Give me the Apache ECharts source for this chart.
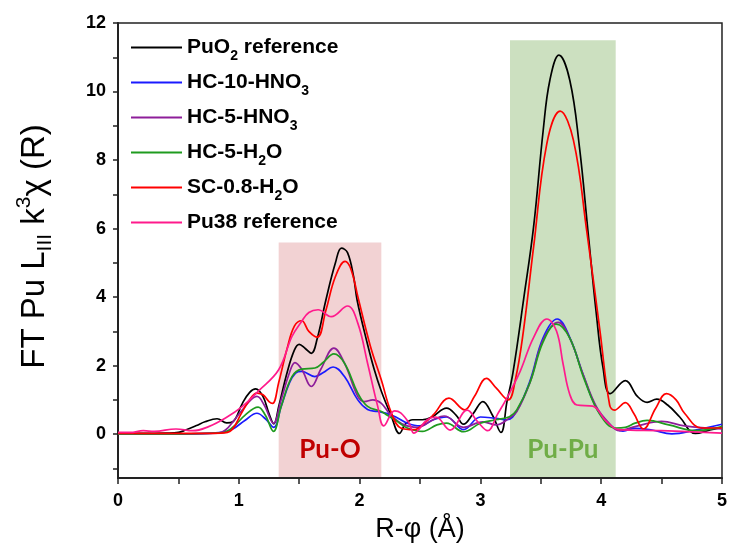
<!DOCTYPE html>
<html><head><meta charset="utf-8">
<script src="https://cdn.jsdelivr.net/npm/echarts@6/dist/echarts.min.js"></script>
<style>html,body{margin:0;padding:0;background:#fff}#c{width:730px;height:550px}</style>
</head><body><div id="c"></div>
<script>
// ---- data (R in Å, FT magnitude) ----
const seriesNames = ['PuO2 reference','HC-10-HNO3','HC-5-HNO3','HC-5-H2O','SC-0.8-H2O','Pu38 reference'];
const legendRich = ['{t|PuO}{s|2}{t| reference}','{t|HC-10-HNO}{s|3}','{t|HC-5-HNO}{s|3}','{t|HC-5-H}{s|2}{t|O}','{t|SC-0.8-H}{s|2}{t|O}','{t|Pu38 reference}'];
const seriesColors = ['#000000','#1a1aff','#8e1e9a','#1f9b1f','#ff0000','#ff1a8c'];

const puo2Ref = [[0,0.02],[0.2,0.02],[0.4,0.03],[0.5,0.05],[0.56,0.12],[0.65,0.25],[0.72,0.36],[0.82,0.45],[0.9,0.33],[0.95,0.36],[1.03,0.9],[1.09,1.22],[1.14,1.32],[1.2,1.1],[1.25,0.6],[1.29,0.3],[1.33,0.8],[1.4,1.8],[1.46,2.45],[1.5,2.62],[1.55,2.5],[1.6,2.36],[1.65,2.8],[1.72,3.9],[1.8,5.0],[1.85,5.43],[1.9,5.3],[1.95,4.6],[1.98,3.9],[2.06,2.7],[2.12,1.9],[2.18,1.25],[2.26,0.55],[2.33,0.02],[2.38,0.3],[2.44,0.42],[2.52,0.42],[2.6,0.5],[2.72,0.76],[2.8,0.55],[2.86,0.29],[2.94,0.6],[3.02,0.95],[3.1,0.55],[3.17,0.05],[3.22,0.95],[3.27,1.8],[3.36,3.99],[3.44,6.04],[3.52,8.87],[3.575,10.33],[3.65,11.06],[3.74,10.33],[3.82,8.38],[3.89,5.94],[3.96,3.5],[4.015,1.94],[4.075,1.18],[4.2,1.56],[4.3,1.1],[4.38,0.93],[4.46,1.02],[4.55,0.85],[4.65,0.5],[4.78,0.02],[4.9,0.12],[5.0,0.2]];
const hc10HNO3 = [[0,0.0],[0.5,0.0],[0.86,0.05],[0.95,0.15],[1.05,0.4],[1.15,0.61],[1.22,0.45],[1.29,0.2],[1.35,0.8],[1.42,1.5],[1.47,1.78],[1.52,1.83],[1.63,1.68],[1.7,1.8],[1.78,1.96],[1.875,1.68],[1.985,1.0],[2.066,0.72],[2.15,0.66],[2.23,0.6],[2.3,0.5],[2.395,0.32],[2.5,0.24],[2.61,0.42],[2.72,0.5],[2.86,0.13],[3.0,0.5],[3.11,0.47],[3.22,0.42],[3.3,0.67],[3.41,1.55],[3.52,2.82],[3.636,3.36],[3.74,2.82],[3.85,1.74],[3.96,0.77],[4.07,0.28],[4.18,0.09],[4.28,0.17],[4.42,0.12],[4.585,0.01],[4.78,0.12],[5.0,0.29]];
const hc5HNO3 = [[0,0.01],[0.5,0.01],[0.83,0.03],[0.89,0.12],[0.96,0.4],[1.03,0.71],[1.1,1.0],[1.15,1.1],[1.21,0.85],[1.287,0.32],[1.35,1.0],[1.42,1.8],[1.465,2.09],[1.52,1.9],[1.6,1.39],[1.68,1.9],[1.787,2.51],[1.875,2.07],[1.985,1.1],[2.04,0.95],[2.11,1.0],[2.18,0.9],[2.26,0.55],[2.37,0.27],[2.48,0.2],[2.61,0.42],[2.7,0.53],[2.86,0.2],[3.02,0.36],[3.13,0.27],[3.24,0.47],[3.3,0.65],[3.41,1.5],[3.52,2.75],[3.645,3.26],[3.74,2.8],[3.85,1.75],[3.96,0.8],[4.07,0.3],[4.15,0.1],[4.28,0.22],[4.5,0.37],[4.69,0.24],[5.0,0.15]];
const hc5H2O = [[0,0.01],[0.5,0.01],[0.86,0.04],[0.95,0.2],[1.05,0.55],[1.16,0.79],[1.22,0.55],[1.287,0.08],[1.35,0.8],[1.44,1.68],[1.52,1.9],[1.63,1.93],[1.7,2.1],[1.787,2.34],[1.875,2.07],[1.985,1.2],[2.066,0.81],[2.18,0.66],[2.23,0.55],[2.3,0.4],[2.395,0.18],[2.52,0.08],[2.64,0.27],[2.72,0.32],[2.86,0.07],[3.0,0.32],[3.13,0.42],[3.24,0.51],[3.3,0.7],[3.41,1.5],[3.52,2.7],[3.63,3.21],[3.74,2.8],[3.86,1.6],[3.99,0.57],[4.12,0.18],[4.2,0.2],[4.28,0.32],[4.38,0.4],[4.56,0.27],[4.78,0.1],[5.0,0.22]];
const sc08H2O = [[0,0.02],[0.5,0.02],[0.85,0.03],[0.94,0.12],[1.02,0.6],[1.08,0.95],[1.15,1.2],[1.2,1.15],[1.25,0.95],[1.28,0.9],[1.33,1.5],[1.4,2.5],[1.46,3.15],[1.52,3.31],[1.58,3.0],[1.65,2.83],[1.72,3.6],[1.8,4.6],[1.88,5.04],[1.93,4.8],[1.985,4.02],[2.09,2.56],[2.18,1.58],[2.26,0.65],[2.34,0.18],[2.45,0.13],[2.53,0.3],[2.61,0.56],[2.74,1.05],[2.87,0.71],[2.95,1.1],[3.05,1.63],[3.13,1.35],[3.23,1.0],[3.29,1.6],[3.356,3.01],[3.44,5.45],[3.55,8.48],[3.66,9.43],[3.77,8.58],[3.88,5.94],[3.99,3.01],[4.07,0.85],[4.11,0.7],[4.2,0.92],[4.27,0.6],[4.35,0.15],[4.45,0.75],[4.54,1.18],[4.62,1.0],[4.69,0.61],[4.83,0.18],[5.0,0.18]];
const pu38Ref = [[0,0.05],[0.1,0.05],[0.21,0.1],[0.3,0.08],[0.48,0.15],[0.62,0.1],[0.75,0.22],[0.89,0.47],[1.03,0.81],[1.16,1.25],[1.33,1.88],[1.44,2.85],[1.52,3.29],[1.58,3.55],[1.656,3.63],[1.765,3.43],[1.9,3.74],[1.985,3.24],[2.066,2.07],[2.15,0.81],[2.2,0.24],[2.29,0.68],[2.34,0.62],[2.41,0.32],[2.45,0.03],[2.56,0.42],[2.63,0.5],[2.75,0.12],[2.89,0.7],[2.98,0.35],[3.06,0.1],[3.14,0.57],[3.22,1.06],[3.33,1.84],[3.44,2.82],[3.55,3.36],[3.63,3.01],[3.685,2.04],[3.74,1.16],[3.8,0.85],[3.93,0.82],[4.04,0.38],[4.15,0.13],[4.5,0.1],[5,0.03]];
const allData = [puo2Ref, hc10HNO3, hc5HNO3, hc5H2O, sc08H2O, pu38Ref];

// shaded regions: [xStart, xEnd, yTop, label]
const regionPuO = [1.33, 2.18, 5.59, 'Pu-O'];
const regionPuPu = [3.245, 4.12, 11.5, 'Pu-Pu'];
const yTickValues = [-1,0,1,2,3,4,5,6,7,8,9,10,11,12];
const yLabelValues = [0,2,4,6,8,10,12];
const xTickValues = [0,0.5,1,1.5,2,2.5,3,3.5,4,4.5,5];
const xLabelValues = [0,1,2,3,4,5];
const Y_MIN = -1.28, Y_MAX = 12;

const FONT = 'Liberation Sans';
const chart = echarts.init(document.getElementById('c'));

const series = seriesNames.map((n, i) => ({
  name: n, type: 'line', data: allData[i], showSymbol: false, smooth: 0.4,
  lineStyle: {color: seriesColors[i], width: 1.7}, itemStyle: {color: seriesColors[i]},
  z: 3 + i, animation: false
}));
series.unshift({
  name: 'regions', type: 'line', data: [], z: 1, animation: false, silent: true,
  markArea: {
    silent: true,
    data: [
      [{xAxis: regionPuO[0], yAxis: Y_MIN + 0.03, itemStyle: {color: '#f2d2d3'},
        label: {show: true, position: 'insideBottom', distance: 14, formatter: regionPuO[3], color: '#c00000', fontSize: 26, fontWeight: 'bold', fontFamily: 'Lato'}},
       {xAxis: regionPuO[1], yAxis: regionPuO[2]}],
      [{xAxis: regionPuPu[0], yAxis: Y_MIN + 0.03, itemStyle: {color: '#cce0c0'},
        label: {show: true, position: 'insideBottom', distance: 14, formatter: regionPuPu[3], color: '#70ad47', fontSize: 26, fontWeight: 'bold', fontFamily: 'Lato'}},
       {xAxis: regionPuPu[1], yAxis: regionPuPu[2]}]
    ]
  }
});

const legendMap = {};
seriesNames.forEach((n, i) => legendMap[n] = legendRich[i]);

chart.setOption({
  animation: false,
  backgroundColor: '#fff',
  grid: {left: 118, right: 3, top: 23, bottom: 72, show: true, borderColor: '#222', borderWidth: 1.5, backgroundColor: 'transparent'},
  legend: {
    data: seriesNames, orient: 'vertical', left: 131, top: 37, itemGap: 8.5, padding: 0,
    icon: 'rect', itemWidth: 51, itemHeight: 2, selectedMode: false,
    formatter: n => legendMap[n],
    textStyle: {color: '#000', fontFamily: FONT, rich: {
      t: {fontSize: 21, fontWeight: 'bold', fontFamily: FONT, color: '#000', lineHeight: 32, verticalAlign: 'middle'},
      s: {fontSize: 14, fontWeight: 'bold', fontFamily: FONT, color: '#000', lineHeight: 14, verticalAlign: 'bottom'}
    }}
  },
  xAxis: {
    type: 'value', min: 0, max: 5, interval: 0.5,
    name: 'R-φ (Å)', nameLocation: 'middle', nameGap: 38,
    nameTextStyle: {fontSize: 27, fontFamily: FONT, color: '#000'},
    axisLine: {show: true, onZero: false, lineStyle: {color: '#222', width: 2}},
    axisTick: {show: true, inside: false, length: 6, lineStyle: {color: '#222', width: 1.5}, customValues: xTickValues},
    axisLabel: {margin: 14, fontSize: 18, fontWeight: 'bold', fontFamily: FONT, color: '#000', customValues: xLabelValues},
    splitLine: {show: false}
  },
  yAxis: {
    type: 'value', min: Y_MIN, max: Y_MAX,
    name: '{n|FT Pu L}{sb|III}{n| k}{sp|3}{n|χ (R)}', nameLocation: 'middle', nameGap: 62, nameRotate: 90,
    nameTextStyle: {fontSize: 33, fontFamily: FONT, color: '#000', padding: [0, 0, 0, 8], rich: {
      n: {fontSize: 33, fontFamily: FONT, color: '#000', lineHeight: 42, verticalAlign: 'middle'},
      sb: {fontSize: 21, fontFamily: FONT, color: '#000', lineHeight: 21, verticalAlign: 'bottom'},
      sp: {fontSize: 21, fontFamily: FONT, color: '#000', lineHeight: 21, verticalAlign: 'top'}
    }},
    axisLine: {show: true, onZero: false, lineStyle: {color: '#222', width: 2}},
    axisTick: {show: true, inside: false, length: 5, lineStyle: {color: '#222', width: 1.5}, customValues: yTickValues},
    axisLabel: {margin: 12, fontSize: 18, fontWeight: 'bold', fontFamily: FONT, color: '#000', customValues: yLabelValues},
    splitLine: {show: false}
  },
  series: series
});
</script></body></html>
